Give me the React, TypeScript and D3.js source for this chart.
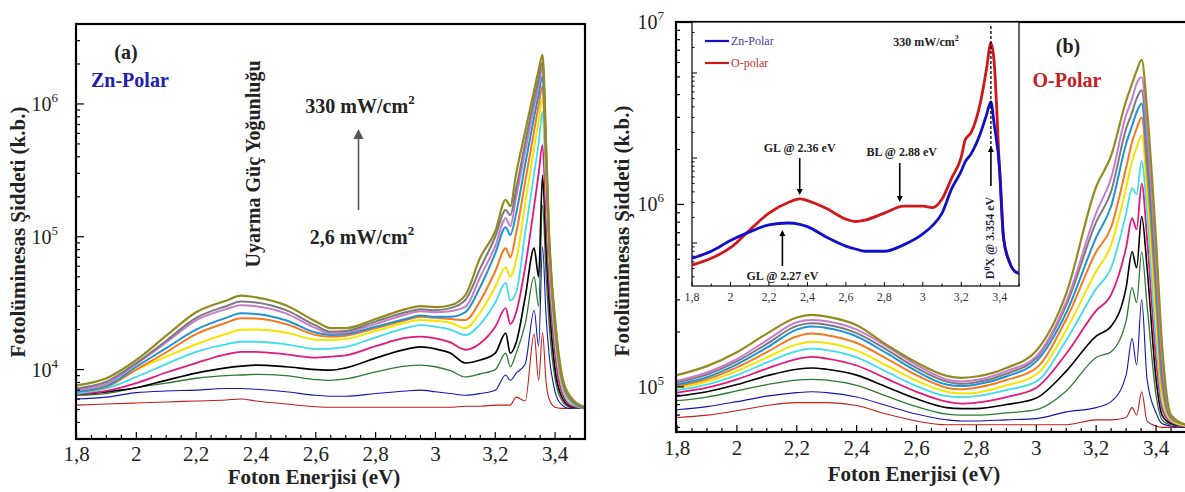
import React from 'react';
import * as d3 from 'd3';

const FONT = "'Liberation Serif', 'Times New Roman', serif";

// ---- panel (a): Zn-polar, PL intensity in thousands (k.b.)
const energyA = [1.8, 1.9, 2.0, 2.1, 2.2, 2.3, 2.35, 2.4, 2.5, 2.6, 2.65, 2.7, 2.8, 2.9, 2.95, 3.0, 3.05, 3.1, 3.15, 3.2, 3.235, 3.25, 3.27, 3.3, 3.33, 3.345, 3.358, 3.37, 3.38, 3.4, 3.42, 3.45, 3.5];

const aRed = [5.4, 5.5, 5.6, 5.7, 5.8, 5.9, 6.0, 5.8, 5.5, 5.25, 5.2, 5.2, 5.2, 5.2, 5.2, 5.2, 5.2, 5.3, 5.3, 5.4, 5.4, 5.4, 6.2, 5.8, 18.5, 8.3, 19, 8, 6, 5.2, 5.1, 5.1, 5.1];
const aBlue = [6.0, 6.2, 6.7, 6.9, 7.0, 7.2, 7.2, 7.1, 6.8, 6.4, 6.3, 6.3, 6.6, 6.9, 7.0, 6.8, 6.6, 6.4, 6.6, 7.0, 9.1, 8.3, 9.4, 11, 28, 15, 84, 25, 13, 6.8, 5.5, 5.1, 5.1];
const aGreen = [6.4, 6.6, 7.3, 7.9, 8.6, 9.0, 9.1, 9.2, 9.0, 8.4, 8.3, 8.5, 9.6, 10.6, 10.8, 10.5, 9.8, 8.8, 9.3, 10, 13.3, 10.5, 13.3, 22, 50, 30, 173, 50, 22, 8.5, 6, 5.2, 5.1];
const aBlack = [6.5, 6.8, 7.3, 8.3, 9.4, 10.3, 10.6, 10.8, 10.5, 10.0, 9.9, 10.3, 12.2, 14.2, 14.8, 14.3, 13.3, 11.2, 11.8, 13.3, 18.8, 13.3, 16, 35, 82, 50, 290, 80, 32, 10, 6.4, 5.3, 5.1];
const aMagenta = [6.5, 6.9, 7.9, 9.5, 11.2, 13.0, 13.6, 13.6, 13.0, 12.3, 12.5, 12.8, 15, 17.3, 17.7, 17.2, 16, 14.1, 15.8, 21, 29, 22, 27, 59, 170, 300, 490, 130, 45, 13, 7, 5.4, 5.1];
const aCyan = [6.6, 7.2, 8.8, 11, 13.6, 15.5, 16.2, 16.2, 15.5, 14.3, 14.4, 14.8, 17.5, 20.5, 21.6, 21, 20, 18.2, 22, 32, 45, 33, 38, 107, 300, 510, 870, 220, 65, 16, 7.8, 5.6, 5.1];
const aYellow = [6.9, 7.6, 10, 12.5, 15.5, 18.5, 19.9, 20, 19, 16.8, 16.7, 17, 19.5, 22.5, 23.6, 23.2, 22.5, 20.5, 27, 42, 59, 50, 67, 176, 470, 750, 1110, 280, 80, 19, 8.4, 5.8, 5.1];
const aOrange = [6.8, 7.4, 10, 13.5, 18.5, 22.5, 24.3, 24.2, 22, 18.2, 17.7, 18, 20.5, 23.5, 25, 24.5, 24, 23.6, 33, 55, 82, 70, 107, 260, 630, 980, 1360, 320, 85, 20, 8.7, 5.9, 5.1];
const aTeal = [6.8, 7.5, 10.5, 14.5, 20, 24.5, 26.5, 26.2, 23.5, 19, 18.2, 18.5, 21, 24, 25.5, 25, 25, 27.1, 42, 75, 118, 103, 150, 350, 800, 1180, 1620, 360, 90, 21, 9, 6.0, 5.1];
const aLavender = [7.0, 7.8, 11.0, 16, 23.5, 28.5, 30.5, 30, 26.5, 20.5, 18.7, 19, 22, 26, 27.5, 27, 27.5, 29.6, 50, 85, 138, 120, 200, 440, 960, 1380, 1870, 400, 95, 22, 9.3, 6.1, 5.2];
const aGray = [7.2, 8.1, 11.2, 16.5, 24.5, 30, 32.5, 32, 28, 21.5, 19.3, 19.5, 23, 27, 28.5, 28, 29, 33.4, 58, 100, 159, 145, 230, 510, 1100, 1550, 2070, 450, 100, 23, 9.6, 6.2, 5.2];
const aOlive = [7.6, 8.6, 11.8, 18, 27, 33, 36, 35, 30.5, 23, 20.5, 20.5, 24, 28.5, 30, 29.5, 30.5, 36.4, 70, 110, 190, 170, 300, 620, 1270, 1800, 2340, 510, 107, 24, 9.9, 6.3, 5.2];

// ---- panel (b): O-polar
const energyB = [1.8, 1.9, 2.0, 2.1, 2.2, 2.25, 2.3, 2.4, 2.5, 2.6, 2.7, 2.75, 2.8, 2.9, 3.0, 3.1, 3.2, 3.25, 3.3, 3.32, 3.335, 3.352, 3.37, 3.4, 3.42, 3.45, 3.5];

const bRed = [68, 70, 74, 79, 82, 82, 82, 79, 71, 65, 62, 62, 62, 62, 62, 62, 66, 66, 68, 77, 70, 94, 65, 61, 60, 60, 60];
const bBlue = [75, 78, 83, 89, 93, 94, 93, 88, 79, 71, 66, 65, 65, 66, 67, 73, 77, 83, 116, 184, 132, 300, 110, 72, 63, 61, 60];
const bGreen = [84, 88, 95, 103, 109, 110, 109, 102, 89, 78, 71, 70, 70, 72, 75, 95, 145, 156, 230, 350, 290, 550, 280, 90, 66, 62, 61];
const bBlack = [89, 94, 103, 115, 125, 127, 125, 116, 100, 86, 77, 76, 76, 80, 87, 122, 190, 215, 350, 550, 450, 860, 450, 110, 70, 63, 61];
const bMagenta = [93, 99, 110, 126, 142, 146, 143, 131, 111, 94, 83, 81, 82, 88, 99, 152, 262, 320, 580, 840, 730, 1300, 650, 140, 76, 64, 61];
const bCyan = [96, 103, 116, 136, 157, 162, 159, 145, 121, 101, 89, 88, 89, 96, 107, 180, 345, 450, 890, 1230, 1140, 1730, 900, 180, 82, 65, 61];
const bYellow = [99, 107, 122, 145, 171, 177, 174, 158, 131, 108, 94, 92, 93, 102, 117, 205, 430, 600, 1230, 1730, 2050, 2380, 1200, 240, 90, 66, 61];
const bOrange = [101, 110, 128, 155, 189, 196, 192, 174, 143, 116, 99, 97, 99, 109, 127, 235, 550, 750, 1590, 2200, 2600, 3000, 1500, 300, 100, 67, 62];
const bTeal = [103, 113, 133, 164, 206, 214, 210, 189, 153, 122, 103, 101, 103, 114, 138, 255, 660, 980, 2150, 2700, 3200, 3580, 1800, 360, 115, 68, 62];
const bGray = [106, 117, 138, 172, 216, 223, 219, 197, 160, 127, 107, 104, 106, 118, 144, 280, 800, 1180, 2600, 3200, 3800, 4220, 2200, 430, 130, 69, 62];
const bLavender = [108, 120, 142, 180, 226, 233, 229, 206, 167, 132, 110, 107, 109, 122, 147, 292, 900, 1400, 3100, 3800, 4600, 4980, 2500, 500, 145, 69, 62];
const bOlive = [116, 130, 155, 196, 240, 248, 243, 218, 170, 136, 115, 112, 114, 127, 158, 325, 1250, 1850, 3700, 4600, 5400, 6200, 3300, 630, 170, 70, 62];

// ---- inset: 330 mW/cm2 comparison
const energyInset = [1.8, 1.9, 2.0, 2.1, 2.2, 2.3, 2.36, 2.4, 2.5, 2.6, 2.65, 2.7, 2.8, 2.9, 3.0, 3.05, 3.1, 3.15, 3.2, 3.22, 3.25, 3.3, 3.33, 3.354, 3.37, 3.4, 3.42, 3.45, 3.48, 3.5];
const insetZn = [66, 80, 107, 135, 163, 172, 166, 156, 117, 92, 85, 80, 80, 95, 128, 160, 225, 437, 703, 900, 1110, 1970, 3150, 4580, 2600, 700, 115, 60, 46, 44];
const insetO = [55, 66, 88, 142, 225, 299, 330, 315, 254, 191, 179, 186, 225, 272, 272, 261, 330, 582, 1030, 1630, 1970, 4560, 10700, 22600, 14100, 650, 110, 60, 46, 44];

const xTickLabels = ['1,8', '2', '2,2', '2,4', '2,6', '2,8', '3', '3,2', '3,4'];

const C = {
  red: '#c41a1a', blue: '#1414b4', green: '#2c7a30', black: '#000000', magenta: '#e3177c', cyan: '#3fdcee',
  yellow: '#f4e400', orange: '#f47a1e', teal: '#1f93d0', lavender: '#c77bc9', gray: '#7a7a80', olive: '#938b1f',
};

const seriesA = [
  [aRed, C.red, 1.1], [aBlue, C.blue, 1.1], [aGreen, C.green, 1.3], [aBlack, C.black, 1.7],
  [aMagenta, C.magenta, 1.8], [aCyan, C.cyan, 1.8], [aYellow, C.yellow, 2], [aOrange, C.orange, 2],
  [aTeal, C.teal, 2], [aLavender, C.lavender, 2], [aGray, C.gray, 2], [aOlive, C.olive, 2.2],
];
const seriesB = [
  [bRed, C.red, 1.1], [bBlue, C.blue, 1.1], [bGreen, C.green, 1.3], [bBlack, C.black, 1.6],
  [bMagenta, C.magenta, 1.8], [bCyan, C.cyan, 1.8], [bYellow, C.yellow, 2], [bOrange, C.orange, 2],
  [bTeal, C.teal, 2], [bGray, C.gray, 2], [bLavender, C.lavender, 2], [bOlive, C.olive, 2.2],
];

function logTicks(scale) {
  const [lo, hi] = scale.domain();
  const out = [];
  for (let k = Math.floor(Math.log10(lo)); k <= Math.ceil(Math.log10(hi)); k++) {
    for (let m = 1; m <= 9; m++) {
      const v = m * Math.pow(10, k);
      if (v >= lo * 0.999 && v <= hi * 1.001) out.push({ v, major: m === 1, k });
    }
  }
  return out;
}

function Curves({ energy, series, x, y, clip }) {
  return (
    <g clipPath={`url(#${clip})`}>
      {series.map(([vals, color, w], i) => {
        const line = d3
          .line()
          .x((d, j) => x(energy[j]))
          .y((d) => y(d * 1000))
          .curve(d3.curveMonotoneX);
        return <path key={i} d={line(vals)} fill="none" stroke={color} strokeWidth={w} strokeLinejoin="round" />;
      })}
    </g>
  );
}

function Frame({ x, y, box, labelY, decades, labelX }) {
  const [x0, y0, x1, y1] = box;
  const minor = d3.range(0, 35).map((i) => 1.8 + i * 0.05);
  return (
    <g>
      {minor.map((e, i) => (
        <line key={'xt' + i} x1={x(e)} x2={x(e)} y1={y1} y2={y1 - (i % 4 === 0 ? 7 : 4)} stroke="#000" strokeWidth={1.2} />
      ))}
      {logTicks(y).map((t, i) => (
        <line key={'yt' + i} x1={x0} x2={x0 + (t.major ? 8 : 4)} y1={y(t.v)} y2={y(t.v)} stroke="#000" strokeWidth={1.2} />
      ))}
      <rect x={x0} y={y0} width={x1 - x0} height={y1 - y0} fill="none" stroke="#000" strokeWidth={2.2} />
      {xTickLabels.map((s, i) => (
        <text key={'xl' + i} x={x(1.8 + i * 0.2)} y={labelY} textAnchor="middle" fontSize={21} fontFamily={FONT} fill="#222">
          {s}
        </text>
      ))}
      {decades.map((k) => (
        <text key={'yl' + k} x={labelX} y={y(Math.pow(10, k)) + 7} textAnchor="end" fontSize={20} fontFamily={FONT} fill="#222">
          10<tspan dy={-9} fontSize={13}>{k}</tspan>
        </text>
      ))}
    </g>
  );
}

function Arrow({ x, yFrom, yTo, color = '#000', w = 1.6, head = 5 }) {
  const dir = yTo < yFrom ? 1 : -1;
  return (
    <g>
      <line x1={x} x2={x} y1={yFrom} y2={yTo + dir * head * 1.6} stroke={color} strokeWidth={w} />
      <path d={`M${x},${yTo} L${x - head},${yTo + dir * head * 2} L${x + head},${yTo + dir * head * 2} Z`} fill={color} />
    </g>
  );
}

export default function App() {
  const xA = d3.scaleLinear().domain([1.8, 3.5]).range([76.5, 585]);
  const yA = d3.scaleLog().domain([3000, 4e6]).range([439, 24]);
  const xB = d3.scaleLinear().domain([1.8, 3.5]).range([677, 1186]);
  const yB = d3.scaleLog().domain([5.66e4, 1e7]).range([432, 22]);
  const xI = d3.scaleLinear().domain([1.8, 3.5]).range([692, 1019]);
  const yI = d3.scaleLog().domain([31.2e3, 39.8e6]).range([286, 22]);

  const insetLine = d3
    .line()
    .x((d, j) => xI(energyInset[j]))
    .y((d) => yI(d * 1000))
    .curve(d3.curveMonotoneX);

  const bold = { fontFamily: FONT, fontWeight: 700 };

  return (
    <svg width={1185} height={492} viewBox="0 0 1185 492" style={{ position: 'absolute', left: 0, top: 0, background: '#fff', fontFamily: FONT }}>
      <defs>
        <clipPath id="clipA"><rect x={76} y={24} width={509} height={415} /></clipPath>
        <clipPath id="clipB"><rect x={676} y={22} width={510} height={410} /></clipPath>
        <clipPath id="clipI"><rect x={692} y={22} width={327} height={264} /></clipPath>
      </defs>
      <rect x={0} y={0} width={1185} height={492} fill="#fff" />

      {/* panel (a) */}
      <Curves energy={energyA} series={seriesA} x={xA} y={yA} clip="clipA" />
      <Frame x={xA} y={yA} box={[76, 24, 585, 439]} labelY={461} decades={[4, 5, 6]} labelX={58} />
      <text transform="translate(25,232) rotate(-90)" textAnchor="middle" fontSize={21} {...bold} fill="#222">
        Fotolüminesas Şiddeti (k.b.)
      </text>
      <text x={314} y={484} textAnchor="middle" fontSize={21} {...bold} fill="#222">Foton Enerjisi (eV)</text>
      <text x={126} y={59} textAnchor="middle" fontSize={20} {...bold} fill="#222">(a)</text>
      <text x={91} y={87} fontSize={20} {...bold} fill="#2020b0">Zn-Polar</text>
      <text transform="translate(260,164) rotate(-90)" textAnchor="middle" fontSize={20} {...bold} fill="#222">
        Uyarma Güç Yoğunluğu
      </text>
      <text x={360} y={113} textAnchor="middle" fontSize={20} {...bold} fill="#222">
        330 mW/cm<tspan dy={-9} fontSize={13}>2</tspan>
      </text>
      <text x={362} y={244} textAnchor="middle" fontSize={20} {...bold} fill="#222">
        2,6 mW/cm<tspan dy={-9} fontSize={13}>2</tspan>
      </text>
      <Arrow x={358.5} yFrom={210} yTo={129} color="#555" w={1.6} head={5} />

      {/* panel (b) */}
      <Curves energy={energyB} series={seriesB} x={xB} y={yB} clip="clipB" />
      <Frame x={xB} y={yB} box={[676, 22, 1188, 432]} labelY={455} decades={[5, 6, 7]} labelX={664} />
      <text transform="translate(629,231) rotate(-90)" textAnchor="middle" fontSize={21} {...bold} fill="#222">
        Fotolüminesas Şiddeti (k.b.)
      </text>
      <text x={914} y={481} textAnchor="middle" fontSize={21} {...bold} fill="#222">Foton Enerjisi (eV)</text>
      <text x={1068} y={53} textAnchor="middle" fontSize={20} {...bold} fill="#222">(b)</text>
      <text x={1067} y={87} textAnchor="middle" fontSize={20} {...bold} fill="#c42020">O-Polar</text>

      {/* inset */}
      <rect x={692} y={22} width={327} height={264} fill="#fff" stroke="#000" strokeWidth={1.2} />
      {d3.range(0, 18).map((i) => {
        const e = 1.8 + i * 0.1;
        return <line key={'it' + i} x1={xI(e)} x2={xI(e)} y1={286} y2={286 - (i % 2 === 0 ? 4 : 2.5)} stroke="#000" strokeWidth={1} />;
      })}
      {logTicks(yI).map((t, i) => (
        <line key={'iy' + i} x1={692} x2={692 + (t.major ? 5 : 2.5)} y1={yI(t.v)} y2={yI(t.v)} stroke="#000" strokeWidth={1} />
      ))}
      {xTickLabels.map((s, i) => (
        <text key={'il' + i} x={xI(1.8 + i * 0.2)} y={301} textAnchor="middle" fontSize={12} fontFamily={FONT} fill="#333">
          {s}
        </text>
      ))}
      <g clipPath="url(#clipI)">
        <path d={insetLine(insetO)} fill="none" stroke="#d01818" strokeWidth={2.8} strokeLinejoin="round" />
        <path d={insetLine(insetZn)} fill="none" stroke="#1010c8" strokeWidth={2.8} strokeLinejoin="round" />
      </g>
      <line x1={705} x2={729} y1={41} y2={41} stroke="#1010c8" strokeWidth={2.2} />
      <text x={731} y={45} fontSize={12} fontFamily={FONT} fill="#4a3aa0">Zn-Polar</text>
      <line x1={705} x2={729} y1={63} y2={63} stroke="#d01818" strokeWidth={2.2} />
      <text x={731} y={67} fontSize={12} fontFamily={FONT} fill="#c03030">O-polar</text>
      <text x={926} y={46} textAnchor="middle" fontSize={12} {...bold} fill="#222">
        330 mW/cm<tspan dy={-5} fontSize={8}>2</tspan>
      </text>
      <line x1={xI(3.354)} x2={xI(3.354)} y1={26} y2={150} stroke="#000" strokeWidth={1.3} strokeDasharray="3,2" />
      <Arrow x={xI(3.354)} yFrom={186} yTo={146} w={1.6} head={3} />
      <text x={xI(2.36)} y={152} textAnchor="middle" fontSize={12} {...bold} fill="#222">GL @ 2.36 eV</text>
      <Arrow x={xI(2.36)} yFrom={158} yTo={195} w={1.6} head={3} />
      <text x={xI(2.89)} y={156} textAnchor="middle" fontSize={12} {...bold} fill="#222">BL @ 2.88 eV</text>
      <Arrow x={xI(2.88)} yFrom={163} yTo={202} w={1.6} head={3} />
      <text x={xI(2.27)} y={280} textAnchor="middle" fontSize={12} {...bold} fill="#222">GL @ 2.27 eV</text>
      <Arrow x={xI(2.27)} yFrom={266} yTo={230} w={1.6} head={3} />
      <text transform={`translate(${xI(3.354) - 1},238) rotate(-90)`} textAnchor="middle" dy={4} fontSize={12} {...bold} fill="#2a1d4a">
        D<tspan dy={-4} fontSize={8}>0</tspan><tspan dy={4}>X @ 3.354 eV</tspan>
      </text>
    </svg>
  );
}
